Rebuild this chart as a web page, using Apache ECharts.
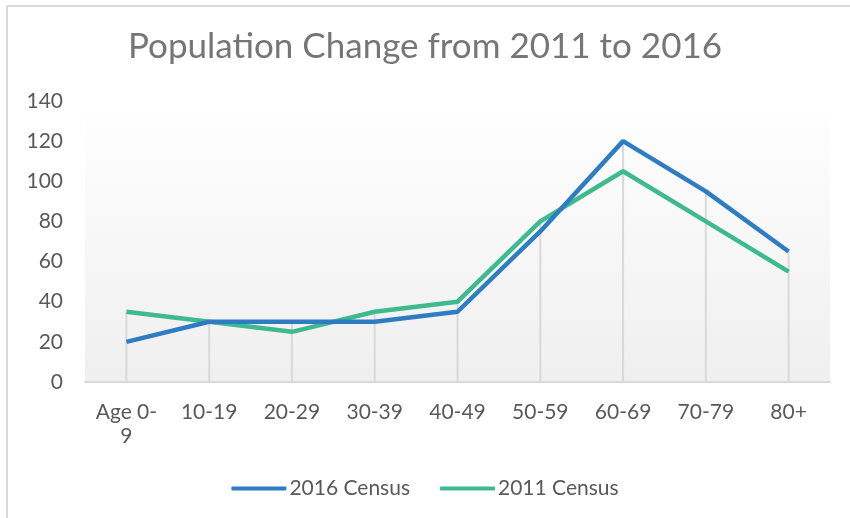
<!DOCTYPE html>
<html>
<head>
<meta charset="utf-8">
<script src="https://cdn.jsdelivr.net/npm/echarts@6/dist/echarts.min.js"></script>
<style>
  html, body { margin: 0; padding: 0; background: #fff; }
  #main { width: 850px; height: 518px; }
</style>
</head>
<body>
<div id="main"></div>
<script>
const categories = ['Age 0-9', '10-19', '20-29', '30-39', '40-49', '50-59', '60-69', '70-79', '80+'];
const census2016 = [20, 30, 30, 30, 35, 75, 120, 95, 65];
const census2011 = [35, 30, 25, 35, 40, 80, 105, 80, 55];
const yTicks = { min: 0, max: 140, interval: 20 };

// drop lines go up to the higher of the two series
const dropTops = categories.map((c, i) => Math.max(census2016[i], census2011[i]));

const font = 'Lato, "Open Sans", sans-serif';
const myChart = echarts.init(document.getElementById('main'));

const option = {
  backgroundColor: '#fff',
  animation: false,
  title: {
    text: 'Population Change from 2011 to 2016',
    left: 'center',
    top: 24,
    textStyle: { fontFamily: font, fontSize: 35, fontWeight: 'normal', color: '#767676' }
  },
  legend: {
    bottom: 14,
    left: 'center',
    itemWidth: 55,
    itemHeight: 4,
    itemGap: 30,
    icon: 'roundRect',
    data: ['2016 Census', '2011 Census'],
    textStyle: { fontFamily: font, fontSize: 21, color: '#595959', padding: [0, 0, 0, -2] }
  },
  grid: {
    left: 85,
    right: 20,
    top: 101,
    bottom: 136,
    show: true,
    borderWidth: 0,
    backgroundColor: new echarts.graphic.LinearGradient(0, 0, 0, 1, [
      { offset: 0, color: '#ffffff' },
      { offset: 1, color: '#efefef' }
    ])
  },
  xAxis: {
    type: 'category',
    data: categories,
    boundaryGap: true,
    axisLine: { lineStyle: { color: '#d9d9d9', width: 2 } },
    axisTick: { show: false },
    axisLabel: {
      interval: 0,
      margin: 18,
      fontFamily: font,
      fontSize: 21,
      color: '#595959',
      lineHeight: 24,
      formatter: v => v === 'Age 0-9' ? 'Age 0-\n9' : v
    },
    splitLine: { show: false }
  },
  yAxis: {
    type: 'value',
    min: yTicks.min,
    max: yTicks.max,
    interval: yTicks.interval,
    axisLine: { show: false },
    axisTick: { show: false },
    splitLine: { show: false },
    axisLabel: { margin: 22, fontFamily: font, fontSize: 21, color: '#595959' }
  },
  series: [
    {
      name: 'drop',
      type: 'bar',
      data: dropTops,
      barWidth: 2,
      silent: true,
      itemStyle: { color: '#d9d9d9' },
      z: 1
    },
    {
      name: '2016 Census',
      type: 'line',
      data: census2016,
      symbol: 'none',
      lineStyle: { color: '#2e7dc3', width: 4.5 },
      itemStyle: { color: '#2e7dc3' },
      z: 3
    },
    {
      name: '2011 Census',
      type: 'line',
      data: census2011,
      symbol: 'none',
      lineStyle: { color: '#3dba8e', width: 4.5 },
      itemStyle: { color: '#3dba8e' },
      z: 2
    }
  ],
  graphic: [
    { type: 'line', shape: { x1: 7, y1: 6, x2: 850, y2: 6 }, style: { stroke: '#d9d9d9', lineWidth: 2 } },
    { type: 'line', shape: { x1: 7, y1: 6, x2: 7, y2: 518 }, style: { stroke: '#d9d9d9', lineWidth: 2 } }
  ]
};

myChart.setOption(option);
window.addEventListener('resize', function () {
  myChart.resize();
});
</script>
</body>
</html>
